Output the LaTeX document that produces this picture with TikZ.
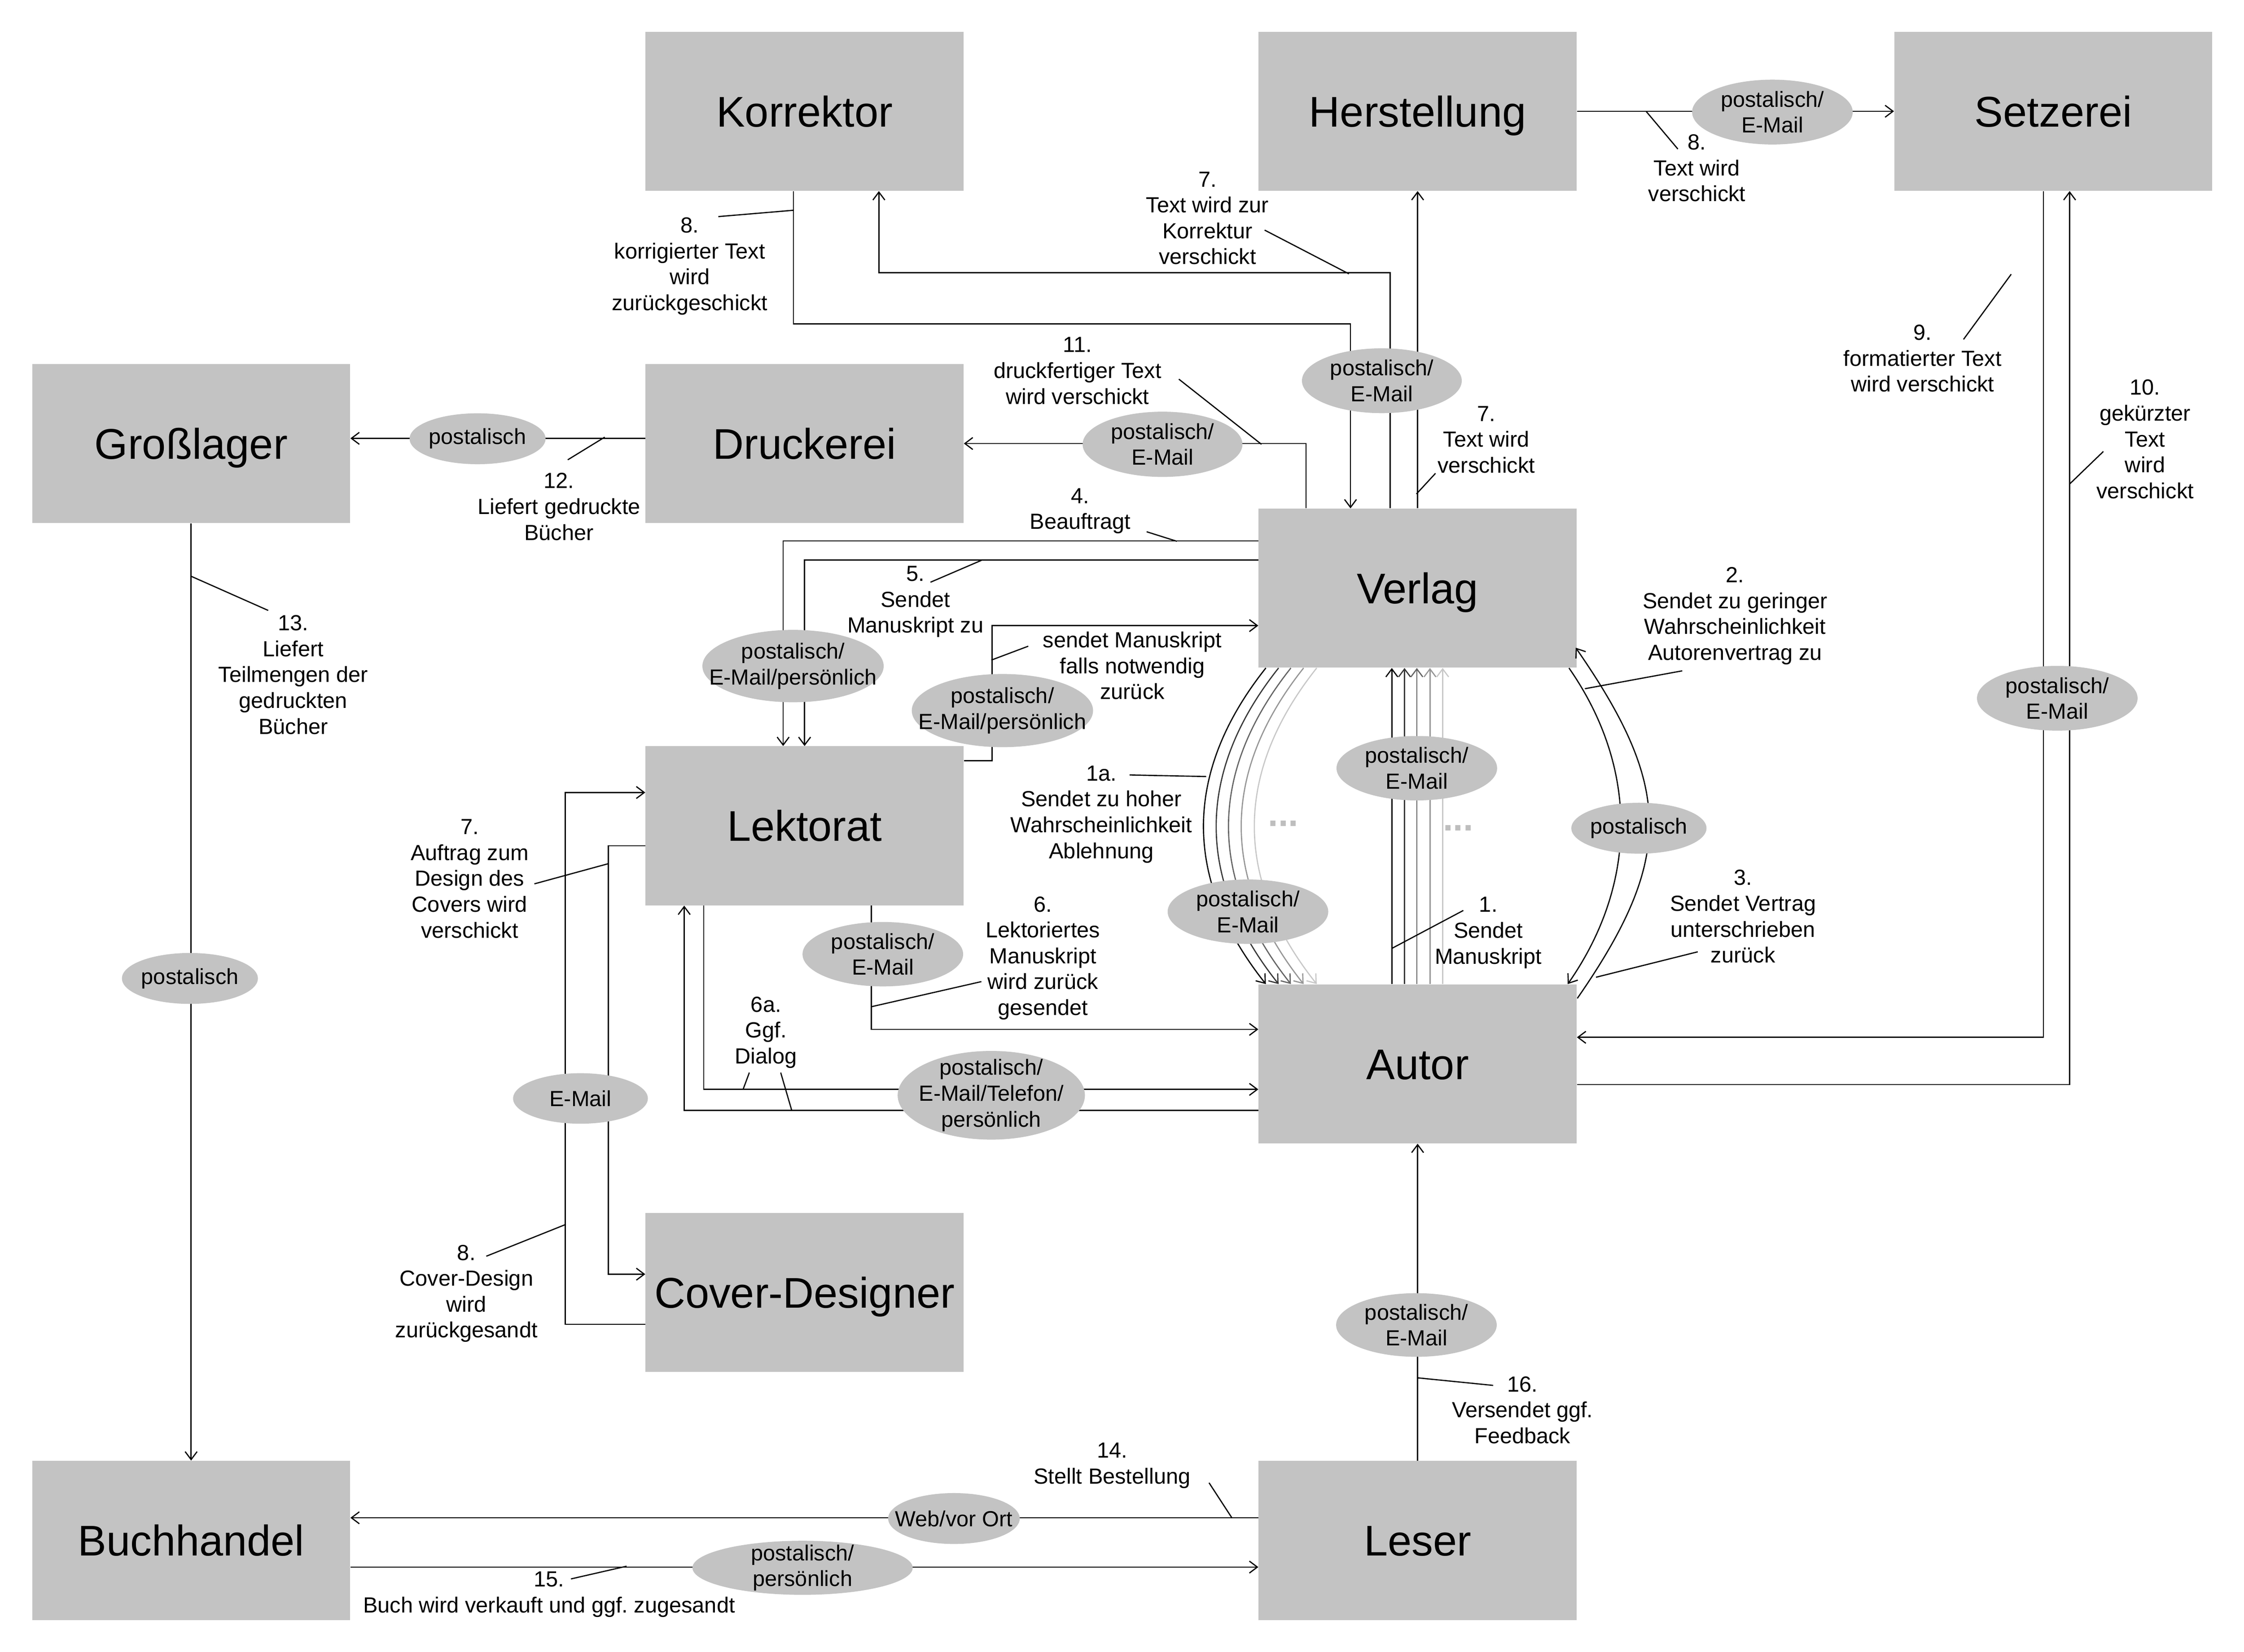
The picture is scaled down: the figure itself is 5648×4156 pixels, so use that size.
\documentclass[tikz,border=0pt]{standalone}
\usepackage{fontspec}
\setmainfont{Liberation Sans}
\usetikzlibrary{arrows.meta,calc,shapes.geometric}
\frenchspacing
\definecolor{boxgray}{RGB}{195,195,195}
\definecolor{gA}{RGB}{0,0,0}
\definecolor{gB}{RGB}{55,55,55}
\definecolor{gC}{RGB}{100,100,100}
\definecolor{gD}{RGB}{150,150,150}
\definecolor{gE}{RGB}{200,200,200}
\definecolor{dotgray}{RGB}{190,190,190}
\newcommand\bigf{\fontsize{30.7pt}{36pt}\selectfont}
\newcommand\smallf{\fontsize{15.65pt}{18.5pt}\selectfont}
\newcommand\dotf{\fontsize{26pt}{28pt}\selectfont\bfseries}
\begin{document}
\begin{tikzpicture}[x=0.01cm,y=-0.01cm,
  box/.style={fill=boxgray, minimum width=8cm, minimum height=4cm, inner sep=0pt, font=\bigf, text height=22pt, text depth=0pt},
  ell/.style 2 args={ellipse, fill=boxgray, minimum width=#1, minimum height=#2, inner sep=0pt},
  lbl/.style={align=center, font=\smallf, inner sep=0pt},
  conn/.style={line width=0.85pt},
  arr/.style={conn, -{Straight Barb[length=0.2cm,width=0.3cm]}},
  lead/.style={line width=0.85pt}]
\fill[white] (0,0) rectangle (5648,4156);
\useasboundingbox (0,0) rectangle (5648,4156);

% ---------- boxes ----------
\node[box] (K) at (2025,280) {Korrektor};
\node[box] (H) at (3568,280) {Herstellung};
\node[box] (S) at (5168,280) {Setzerei};
\node[box] (G) at (481,1116) {Großlager};
\node[box] (D) at (2025,1116) {Druckerei};
\node[box] (V) at (3568,1480) {Verlag};
\node[box] (L) at (2025,2078) {Lektorat};
\node[box] (A) at (3568,2677) {Autor};
\node[box] (C) at (2025,3252) {Cover-Designer};
\node[box] (B) at (481,3876) {Buchhandel};
\node[box] (R) at (3568,3876) {Leser};

% ---------- connectors ----------
\draw[arr] (H.east) -- (S.west);
\draw[arr] (V.north) -- (H.south);
\draw[arr] ($(V.north west)+(332,0)$) -- ++(0,-593) -| ($(K.south west)+(588,0)$);
\draw[arr] ($(K.south west)+(373,0)$) -- ++(0,334) -| ($(V.north west)+(232,0)$);
\draw[arr] ($(V.north west)+(120,0)$) |- (D.east);
\draw[arr] ($(D.west)+(0,-13)$) -- ($(G.east)+(0,-13)$);
\draw[arr] (G.south) -- (B.north);
\draw[arr] ($(V.north west)+(0,82)$) -| ($(L.north west)+(347,0)$);
\draw[arr] ($(V.north west)+(0,130)$) -| ($(L.north west)+(401,0)$);
\draw[arr] ($(L.north east)+(0,37)$) -- ++(71,0) |- ($(V.north west)+(0,295)$);
\foreach \o/\c in {19/gA,51/gB,82/gC,114/gD,147/gE}{
  \draw[arr,draw=\c] ($(V.south west)+(\o,0)$) .. controls +(-209,263) and +(-209,-263) .. ($(A.north west)+(\o,0)$);
}
\foreach \o/\c in {336/gA,368/gB,399/gC,432/gD,464/gE}{
  \draw[arr,draw=\c] ($(A.north west)+(\o,0)$) -- ($(V.south west)+(\o,0)$);
}
\draw[arr] ($(V.south east)+(-20,0)$) .. controls +(176,253) and +(176,-253) .. ($(A.north east)+(-23,0)$);
\draw[arr] ($(A.north east)+(1,36)$) .. controls +(244,-352) and +(244,352) .. ($(V.south east)+(-3,-51)$);
\draw[arr] ($(S.south west)+(376,0)$) |- ($(A.north east)+(0,134)$);
\draw[arr] ($(A.north east)+(0,253)$) -| ($(S.south west)+(442,0)$);
\draw[arr] ($(L.south west)+(569,0)$) |- ($(A.north west)+(0,114)$);
\draw[arr] ($(L.south west)+(147,0)$) |- ($(A.north west)+(0,265)$);
\draw[arr] ($(A.north west)+(0,318)$) -| ($(L.south west)+(98,0)$);
\draw[arr] ($(L.north west)+(0,251)$) -- ++(-93,0) |- ($(C.north west)+(0,155)$);
\draw[arr] ($(C.north west)+(0,281)$) -- ++(-201,0) |- ($(L.north west)+(0,117)$);
\draw[arr] ($(R.north west)+(0,144)$) -- ($(B.north east)+(0,144)$);
\draw[arr] ($(B.north east)+(0,268)$) -- ($(R.north west)+(0,268)$);
\draw[arr] (R.north) -- (A.south);

% ---------- leaders ----------
\draw[lead] (4143,280) coordinate (qa1) -- (4223,375) coordinate (qa2);
\draw[lead] (3613,1191) coordinate (qb1) -- (3565,1243) coordinate (qb2);
\draw[lead] (3183,579) coordinate (qc1) -- (3395,689) coordinate (qc2);
\draw[lead] (1808,545) coordinate (qd1) -- (1998,529) coordinate (qd2);
\draw[lead] (2967,954) coordinate (qe1) -- (3175,1118) coordinate (qe2);
\draw[lead] (1429,1157) coordinate (qf1) -- (1522,1100) coordinate (qf2);
\draw[lead] (481,1450) coordinate (qg1) -- (675,1536) coordinate (qg2);
\draw[lead] (2886,1338) coordinate (qh1) -- (2962,1362) coordinate (qh2);
\draw[lead] (2342,1465) coordinate (qi1) -- (2470,1410) coordinate (qi2);
\draw[lead] (2588,1626) coordinate (qj1) -- (2495,1661) coordinate (qj2);
\draw[lead] (2843,1950) coordinate (qk1) -- (3036,1954) coordinate (qk2);
\draw[lead] (3504,2386) coordinate (ql1) -- (3683,2291) coordinate (ql2);
\draw[lead] (4234,1688) coordinate (qm1) -- (3989,1733) coordinate (qm2);
\draw[lead] (4273,2395) coordinate (qn1) -- (4017,2459) coordinate (qn2);
\draw[lead] (4942,854) coordinate (qo1) -- (5062,690) coordinate (qo2);
\draw[lead] (5294,1136) coordinate (qp1) -- (5210,1217) coordinate (qp2);
\draw[lead] (2194,2533) coordinate (qq1) -- (2470,2470) coordinate (qq2);
\draw[lead] (1886,2699) coordinate (qr1) -- (1870,2742) coordinate (qr2);
\draw[lead] (1965,2699) coordinate (qs1) -- (1993,2795) coordinate (qs2);
\draw[lead] (1345,2224) coordinate (qt1) -- (1532,2173) coordinate (qt2);
\draw[lead] (1224,3161) coordinate (qu1) -- (1424,3081) coordinate (qu2);
\draw[lead] (3043,3731) coordinate (qv1) -- (3101,3820) coordinate (qv2);
\draw[lead] (1437,3973) coordinate (qw1) -- (1577,3941) coordinate (qw2);
\draw[lead] (3568,3467) coordinate (qx1) -- (3758,3486) coordinate (qx2);

% ---------- ellipses ----------
\node[ell={4.04cm}{1.63cm}] (e1) at (4461,282) {};
\node[lbl] (e1t) at (e1) {postalisch/\\E-Mail};
\node[ell={4.02cm}{1.63cm}] (e2) at (3478,958) {};
\node[lbl] (e2t) at (e2) {postalisch/\\E-Mail};
\node[ell={4.02cm}{1.64cm}] (e3) at (2926,1118) {};
\node[lbl] (e3t) at (e3) {postalisch/\\E-Mail};
\node[ell={3.42cm}{1.28cm}] (e4) at (1202,1104) {};
\node[lbl] (e4t) at (e4) {postalisch};
\node[ell={4.56cm}{1.82cm}] (e5) at (1996,1676) {};
\node[lbl] (e5t) at (e5) {postalisch/\\E-Mail/persönlich};
\node[ell={4.56cm}{1.84cm}] (e6) at (2523,1788) {};
\node[lbl] (e6t) at (e6) {postalisch/\\E-Mail/persönlich};
\node[ell={4.04cm}{1.62cm}] (e7) at (3566,1933) {};
\node[lbl] (e7t) at (e7) {postalisch/\\E-Mail};
\node[ell={4.04cm}{1.62cm}] (e8) at (3141,2294) {};
\node[lbl] (e8t) at (e8) {postalisch/\\E-Mail};
\node[ell={3.40cm}{1.28cm}] (e9) at (4125,2084) {};
\node[lbl] (e9t) at (e9) {postalisch};
\node[ell={4.04cm}{1.63cm}] (e10) at (5178,1757) {};
\node[lbl] (e10t) at (e10) {postalisch/\\E-Mail};
\node[ell={4.04cm}{1.62cm}] (e11) at (2222,2401) {};
\node[lbl] (e11t) at (e11) {postalisch/\\E-Mail};
\node[ell={4.71cm}{2.23cm}] (e12) at (2495,2756) {};
\node[lbl] (e12t) at (e12) {postalisch/\\E-Mail/Telefon/\\persönlich};
\node[ell={3.39cm}{1.27cm}] (e13) at (1461,2764) {};
\node[lbl] (e13t) at (e13) {E-Mail};
\node[ell={3.42cm}{1.28cm}] (e14) at (478,2462) {};
\node[lbl] (e14t) at (e14) {postalisch};
\node[ell={3.31cm}{1.28cm}] (e15) at (2401,3821) {};
\node[lbl] (e15t) at (e15) {Web/vor Ort};
\node[ell={5.54cm}{1.36cm}] (e16) at (2020,3945) {};
\node[lbl] (e16t) at (e16) {postalisch/\\persönlich};
\node[ell={4.04cm}{1.60cm}] (e17) at (3565,3334) {};
\node[lbl] (e17t) at (e17) {postalisch/\\E-Mail};

% ---------- dots ----------
\node[font=\dotf, text=dotgray, inner sep=0pt] (dots1) at (3230,2072) {...};
\node[font=\dotf, text=dotgray, inner sep=0pt] (dots2) at (3670,2084) {...};

% ---------- labels ----------
\node[lbl] (t8a) at (4271,423) {8.\\Text wird\\verschickt};
\node[lbl] (t7a) at (3741,1106) {7.\\Text wird\\verschickt};
\node[lbl] (t7b) at (3039,549) {7.\\Text wird zur\\Korrektur\\verschickt};
\node[lbl] (t8b) at (1736,670) {8.\\korrigierter Text\\wird\\zurückgeschickt};
\node[lbl] (t11) at (2712,933) {11.\\druckfertiger Text\\wird verschickt};
\node[lbl] (t12) at (1407,1275) {12.\\Liefert gedruckte\\Bücher};
\node[lbl] (t13) at (738,1698) {13.\\Liefert\\Teilmengen der\\gedruckten\\Bücher};
\node[lbl] (t4) at (2719,1286) {4.\\Beauftragt};
\node[lbl] (t5) at (2304,1514) {5.\\Sendet\\Manuskript zu};
\node[lbl] (tsm) at (2850,1675) {sendet Manuskript\\falls notwendig\\zurück};
\node[lbl] (t1a) at (2772,2049) {1a.\\Sendet zu hoher\\Wahrscheinlichkeit\\Ablehnung};
\node[lbl] (t1) at (3746,2347) {1.\\Sendet\\Manuskript};
\node[lbl] (t2) at (4367,1550) {2.\\Sendet zu geringer\\Wahrscheinlichkeit\\Autorenvertrag zu};
\node[lbl] (t3) at (4387,2306) {3.\\Sendet Vertrag\\unterschrieben\\zurück};
\node[lbl] (t9) at (4839,902) {9.\\formatierter Text\\wird verschickt};
\node[lbl] (t10) at (5399,1105) {10.\\gekürzter\\Text\\wird\\verschickt};
\node[lbl] (t6) at (2625,2411) {6.\\Lektoriertes\\Manuskript\\wird zurück\\gesendet};
\node[lbl] (t6a) at (1928,2598) {6a.\\Ggf.\\Dialog};
\node[lbl] (t7c) at (1182,2211) {7.\\Auftrag zum\\Design des\\Covers wird\\verschickt};
\node[lbl] (t8c) at (1174,3255) {8.\\Cover-Design\\wird\\zurückgesandt};
\node[lbl] (t14) at (2799,3688) {14.\\Stellt Bestellung};
\node[lbl] (t15) at (1382,4012) {15.\\Buch wird verkauft und ggf. zugesandt};
\node[lbl] (t16) at (3832,3548) {16.\\Versendet ggf.\\Feedback};
\end{tikzpicture}
\end{document}
